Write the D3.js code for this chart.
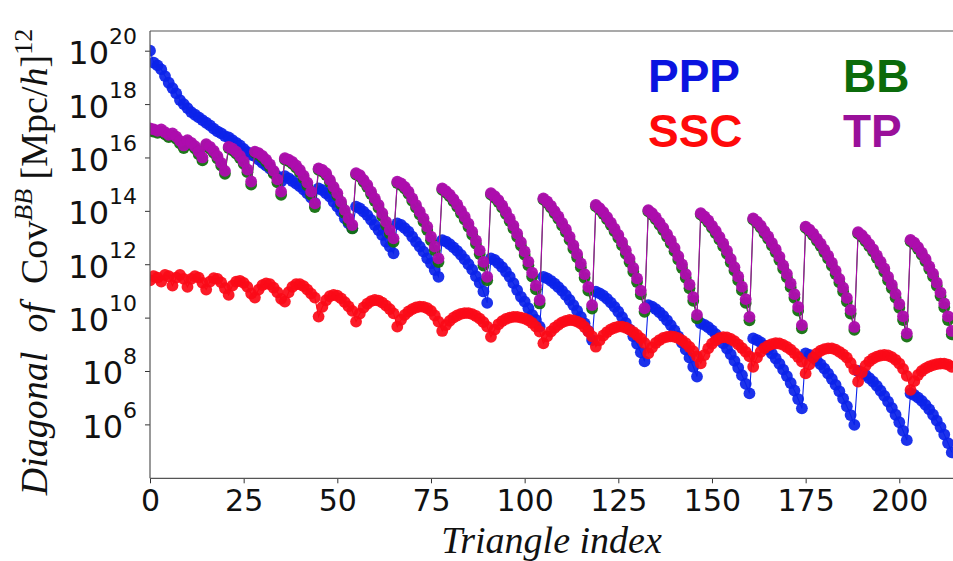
<!DOCTYPE html>
<html><head><meta charset="utf-8">
<script src="https://cdn.jsdelivr.net/npm/d3@7"></script>
<style>body{margin:0;background:#fff}svg{display:block}</style>
</head><body>
<svg id="c" width="953" height="561"></svg>
<script>
// Triangle index: 0 .. 214
const triangleCount = 215;
// log10 of the diagonal of Cov^BB
const ppp_log10 = [
20.0,
19.55,19.45,
19.3,19.05,18.8,
18.6,18.4,18.15,18.0,
17.85,17.7,17.6,17.5,17.4,
17.3,17.2,17.08,16.98,16.9,16.8,
16.75,16.65,16.55,16.45,16.32,16.2,16.1,
16.05,15.92,15.8,15.7,15.58,15.45,15.3,15.1,
15.3,15.22,15.12,15.02,14.92,14.8,14.66,14.5,14.3,
14.84,14.78,14.66,14.53,14.34,14.16,13.97,13.72,13.53,13.35,
14.16,14.09,13.97,13.84,13.66,13.47,13.28,13.09,12.84,12.66,12.41,
13.53,13.47,13.35,13.22,13.03,12.84,12.66,12.47,12.22,12.03,11.78,11.53,
12.9,12.85,12.75,12.63,12.5,12.35,12.18,12.0,11.8,11.55,11.3,10.98,10.55,
12.22,12.16,12.03,11.89,11.72,11.53,11.29,11.03,10.78,10.6,10.35,10.1,9.91,9.66,
11.53,11.47,11.38,11.27,11.14,11.0,10.84,10.66,10.47,10.26,10.03,9.78,9.5,9.16,
10.97,10.91,10.82,10.7,10.56,10.4,10.22,10.02,9.8,9.56,9.3,9.02,8.7,8.36,
10.47,10.41,10.32,10.2,10.06,9.9,9.72,9.52,9.3,9.06,8.8,8.5,8.16,7.79,
9.79,9.73,9.64,9.52,9.38,9.22,9.04,8.84,8.62,8.38,8.12,7.84,7.52,7.16,
9.22,9.16,9.07,8.95,8.81,8.65,8.47,8.27,8.05,7.81,7.55,7.27,6.95,6.6,
8.66,8.6,8.51,8.39,8.25,8.09,7.9,7.7,7.48,7.24,6.97,6.68,6.35,5.98,
8.0,7.94,7.85,7.73,7.6,7.44,7.26,7.07,6.85,6.62,6.36,6.08,5.76,5.41,
7.16,7.1,7.0,6.88,6.73,6.56,6.36,6.14,5.9,5.62,5.3,4.95];
const ssc_log10 = [
11.4,
11.55,11.5,
11.35,11.6,11.55,
11.2,11.5,11.6,11.45,
11.15,11.45,11.55,11.5,11.3,
11.05,11.35,11.48,11.45,11.32,11.1,
10.85,11.2,11.35,11.38,11.3,11.15,10.9,
10.75,11.05,11.22,11.28,11.25,11.12,10.95,10.7,
10.6,10.95,11.15,11.25,11.25,11.18,11.05,10.9,10.75,
10.04,10.4,10.65,10.8,10.85,10.82,10.72,10.58,10.42,10.25,
9.85,10.15,10.38,10.52,10.62,10.66,10.64,10.56,10.45,10.32,10.16,
9.66,9.92,10.1,10.23,10.32,10.38,10.41,10.4,10.35,10.25,10.08,9.85,
9.5,9.72,9.88,10.0,10.08,10.14,10.17,10.17,10.13,10.06,9.96,9.83,9.66,
9.28,9.55,9.75,9.87,9.95,10.0,10.03,10.03,10.0,9.96,9.9,9.8,9.66,9.48,
9.04,9.3,9.48,9.62,9.73,9.82,9.88,9.91,9.9,9.85,9.78,9.65,9.48,9.3,
8.91,9.15,9.33,9.46,9.56,9.62,9.66,9.66,9.62,9.55,9.46,9.35,9.22,9.05,
8.66,8.88,9.05,9.16,9.24,9.28,9.3,9.28,9.23,9.15,9.04,8.9,8.74,8.55,
8.29,8.6,8.85,9.02,9.15,9.23,9.27,9.26,9.2,9.12,9.0,8.86,8.72,8.55,
8.16,8.5,8.72,8.86,8.95,9.01,9.04,9.03,8.98,8.9,8.8,8.67,8.52,8.35,
7.91,8.25,8.5,8.66,8.76,8.82,8.85,8.85,8.8,8.72,8.62,8.5,8.3,8.05,
7.6,7.95,8.2,8.36,8.47,8.54,8.58,8.6,8.58,8.52,8.42,8.28,8.08,7.82,
7.29,7.62,7.85,8.0,8.1,8.17,8.22,8.26,8.28,8.28,8.24,8.16];
const bb_log10 = [
17.0,
16.97,16.92,
16.97,16.87,16.76,
16.82,16.7,16.53,16.35,
16.58,16.47,16.33,16.12,15.89,
16.44,16.33,16.17,15.96,15.7,15.39,
16.35,16.27,16.15,15.98,15.76,15.45,14.98,
16.17,16.1,15.99,15.84,15.65,15.4,15.07,14.6,
15.92,15.86,15.76,15.62,15.44,15.22,14.95,14.6,14.14,
15.54,15.47,15.34,15.08,14.81,14.56,14.24,13.92,13.6,13.34,
15.36,15.28,15.09,14.89,14.63,14.37,14.11,13.8,13.47,13.15,12.84,
15.04,14.97,14.83,14.64,14.38,14.12,13.86,13.6,13.28,12.9,12.52,12.08,
14.79,14.68,14.54,14.36,14.15,13.91,13.67,13.4,13.1,12.76,12.38,11.95,11.4,
14.61,14.49,14.33,14.12,13.88,13.62,13.34,13.03,12.7,12.35,11.96,11.54,11.06,10.53,
14.42,14.29,14.12,13.91,13.7,13.45,13.2,12.91,12.58,12.26,11.89,11.49,11.01,10.34,
14.17,14.04,13.88,13.68,13.47,13.23,12.99,12.71,12.39,12.08,11.72,11.33,10.87,10.22,
13.98,13.85,13.68,13.48,13.27,13.03,12.78,12.49,12.17,11.86,11.49,11.1,10.63,9.97,
13.86,13.73,13.57,13.36,13.16,12.92,12.67,12.39,12.07,11.76,11.4,11.02,10.55,9.9,
13.67,13.54,13.37,13.16,12.95,12.7,12.45,12.16,11.83,11.51,11.14,10.74,10.26,9.6,
13.36,13.24,13.08,12.88,12.68,12.45,12.21,11.94,11.63,11.32,10.98,10.6,10.15,9.54,
13.15,13.03,12.86,12.67,12.47,12.23,11.99,11.72,11.4,11.1,10.75,10.37,9.91,9.29,
12.86,12.75,12.57,12.35,12.11,11.82,11.54,11.19,10.81,10.39,9.91,9.37];
const tp_log10 = [
17.09,
17.05,17.0,
17.05,16.95,16.85,
16.9,16.78,16.62,16.45,
16.65,16.55,16.42,16.22,16.0,
16.5,16.4,16.25,16.05,15.8,15.5,
16.4,16.33,16.22,16.06,15.85,15.55,15.1,
16.22,16.16,16.06,15.92,15.74,15.5,15.18,14.72,
15.97,15.92,15.83,15.7,15.53,15.32,15.06,14.72,14.28,
15.59,15.53,15.41,15.16,14.9,14.66,14.34,14.03,13.72,13.47,
15.41,15.34,15.16,14.97,14.72,14.47,14.22,13.91,13.59,13.28,12.97,
15.09,15.03,14.9,14.72,14.47,14.22,13.97,13.72,13.41,13.03,12.66,12.22,
14.84,14.74,14.61,14.44,14.24,14.01,13.78,13.52,13.22,12.89,12.52,12.09,11.53,
14.66,14.55,14.4,14.2,13.97,13.72,13.45,13.15,12.83,12.48,12.1,11.68,11.2,10.66,
14.47,14.35,14.19,13.99,13.79,13.55,13.31,13.03,12.71,12.39,12.03,11.63,11.15,10.47,
14.22,14.1,13.95,13.76,13.56,13.33,13.1,12.83,12.52,12.21,11.86,11.47,11.01,10.35,
14.03,13.91,13.75,13.56,13.36,13.13,12.89,12.61,12.3,11.99,11.63,11.24,10.77,10.1,
13.91,13.79,13.64,13.44,13.25,13.02,12.78,12.51,12.2,11.89,11.54,11.16,10.69,10.03,
13.72,13.6,13.44,13.24,13.04,12.8,12.56,12.28,11.96,11.64,11.28,10.88,10.4,9.72,
13.41,13.3,13.15,12.96,12.77,12.55,12.32,12.06,11.76,11.45,11.12,10.74,10.29,9.65,
13.2,13.09,12.93,12.75,12.56,12.33,12.1,11.84,11.53,11.23,10.89,10.51,10.05,9.41,
12.91,12.81,12.64,12.43,12.2,11.92,11.65,11.31,10.94,10.53,10.05,9.5];

const seriesNames = ["PPP","SSC","BB","TP"];
const seriesColors = ["#0b22ea","#fb0a18","#13700f","#ad0cad"];
const markerOpacity = [0.93, 0.93, 0.95, 0.96];
const xTickValues = [0,25,50,75,100,125,150,175,200];
const yTickExponents = [6,8,10,12,14,16,18,20];
const xLabel = "Triangle index";

const svg = d3.select("#c");
const L = 150, R = 953, T = 31, B = 478.3;
const x = d3.scaleLinear().domain([0, 214.33]).range([L, R]);
const y = d3.scaleLog().domain([Math.pow(10,3.98), Math.pow(10,20.738)]).range([B, T]);

svg.append("defs").append("clipPath").attr("id","clip")
  .append("rect").attr("x",L).attr("y",T).attr("width",R-L).attr("height",B-T);

const all = [ppp_log10, ssc_log10, bb_log10, tp_log10];
const g = svg.append("g").attr("clip-path","url(#clip)");
all.forEach((arr, si) => {
  const pts = arr.map((v,i)=>({i, v: Math.pow(10, v)}));
  const line = d3.line().x(d=>x(d.i)).y(d=>y(d.v));
  const sg = g.append("g");
  sg.append("path").attr("d", line(pts)).attr("fill","none")
    .attr("stroke", seriesColors[si]).attr("stroke-width",1.1);
  sg.selectAll("circle").data(pts).join("circle")
    .attr("cx", d=>x(d.i)).attr("cy", d=>y(d.v)).attr("r",5.9)
    .attr("fill", seriesColors[si]).attr("fill-opacity",markerOpacity[si]);
});

// axes
const xAxis = d3.axisBottom(x).tickValues(xTickValues).tickSize(5).tickPadding(6).tickFormat(d3.format("d"));
const gx = svg.append("g").attr("transform",`translate(0,${B})`).call(xAxis);
gx.select(".domain").remove();
gx.selectAll(".tick line").attr("stroke","#333").attr("stroke-width",1);
gx.selectAll(".tick text").attr("font-family","DejaVu Sans").attr("font-size",30).attr("fill","#111");

const yAxis = d3.axisLeft(y).tickValues(yTickExponents.map(e=>Math.pow(10,e))).tickSize(5).tickPadding(6).tickFormat(()=> "");
const gy = svg.append("g").attr("transform",`translate(${L},0)`).call(yAxis);
gy.select(".domain").remove();
gy.selectAll(".tick line").attr("stroke","#333").attr("stroke-width",1);
gy.selectAll(".tick text").each(function(d){
  const e = Math.round(Math.log10(d));
  const t = d3.select(this).attr("font-family","DejaVu Sans").attr("fill","#111").attr("dy",null).attr("y",13).attr("x",-13);
  t.append("tspan").attr("font-size",32).text("10");
  t.append("tspan").attr("font-size",22).attr("dy",-20).text(e);
});

// spines
const sp = svg.append("g").attr("stroke","#555").attr("stroke-width",1.2).attr("fill","none");
sp.append("line").attr("x1",L).attr("x2",L).attr("y1",T).attr("y2",B);
sp.append("line").attr("x1",L).attr("x2",R).attr("y1",B).attr("y2",B);
sp.append("line").attr("x1",L).attr("x2",R).attr("y1",T).attr("y2",T);

// axis labels
svg.append("text").attr("x",(L+R)/2).attr("y",553).attr("text-anchor","middle")
  .attr("font-family","Liberation Serif").attr("font-style","italic").attr("font-size",38).attr("fill","#111").text(xLabel);

const yl = svg.append("text").attr("transform","translate(47,262) rotate(-90)").attr("text-anchor","middle")
  .attr("font-family","Liberation Serif").attr("font-size",38).attr("fill","#111");
yl.append("tspan").attr("font-style","italic").text("Diagonal");
yl.append("tspan").text("\u2002");
yl.append("tspan").attr("font-style","italic").text("of");
yl.append("tspan").text("\u2002Cov");
yl.append("tspan").attr("font-style","italic").attr("font-size",26).attr("dy",-15).text("BB");
yl.append("tspan").attr("dy",15).text(" [Mpc/");
yl.append("tspan").attr("font-style","italic").text("h");
yl.append("tspan").text("]");
yl.append("tspan").attr("font-size",26).attr("dy",-15).text("12");

// legend texts
const legendPos = [[648,92],[648,147],[843,92],[843,147]];
const legendTextColors = ["#0a14e0","#ff0a0a","#0b6b0b","#9a109a"];
seriesNames.forEach((n,i)=>{
  svg.append("text").attr("x",legendPos[i][0]).attr("y",legendPos[i][1])
    .attr("font-family","Liberation Sans").attr("font-weight","bold").attr("font-size",46)
    .attr("fill",legendTextColors[i]).text(n);
});
</script>
</body></html>
